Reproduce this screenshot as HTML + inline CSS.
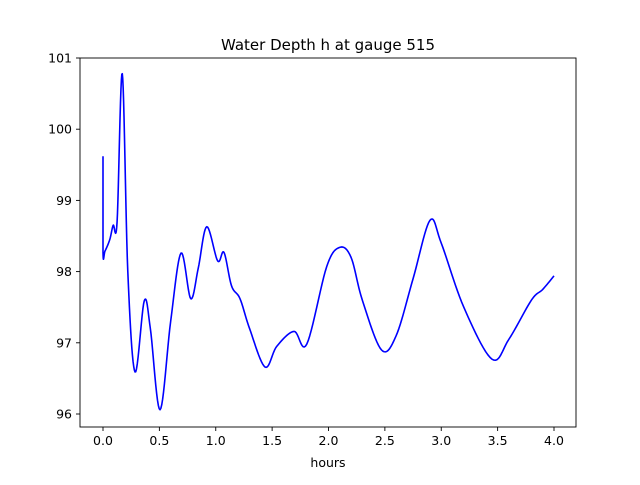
<!DOCTYPE html>
<html><head><meta charset="utf-8"><style>
body{margin:0;background:#fff}
svg text{font-family:"DejaVu Sans","Liberation Sans",sans-serif;fill:#000}
</style></head><body>
<svg width="640" height="480" viewBox="0 0 640 480">
<rect width="640" height="480" fill="#fff"/>
<g id="plot"></g>
</svg>
<script>
const times=[0,0,0.018,0.06,0.09,0.125,0.171,0.22,0.284,0.366,0.42,0.506,0.6,0.692,0.778,0.845,0.92,1.017,1.073,1.14,1.215,1.3,1.437,1.541,1.694,1.807,1.984,2.1,2.2,2.3,2.47,2.6,2.75,2.9,3.0,3.2,3.45,3.6,3.8,3.9,4.0];
const depth=[99.62,98.275,98.29,98.45,98.65,98.7,100.78,98.0,96.59,97.59,97.2,96.06,97.3,98.26,97.62,98.05,98.63,98.15,98.27,97.8,97.62,97.2,96.66,96.95,97.16,96.98,98.07,98.34,98.2,97.6,96.9,97.1,97.9,98.72,98.4,97.5,96.77,97.05,97.6,97.75,97.94];
const xTicks=[0,0.5,1,1.5,2,2.5,3,3.5,4];
const xTickLabels=["0.0","0.5","1.0","1.5","2.0","2.5","3.0","3.5","4.0"];
const yTicks=[96,97,98,99,100,101];
const L=80,R=576,T=58,B=427;
const x=t=>103+(t-0)*112.75;
const y=v=>414-(v-96)*71.2;
const ns="http://www.w3.org/2000/svg";
const g=document.getElementById('plot');
function mk(tag,attrs,txt){const e=document.createElementNS(ns,tag);for(const k in attrs)e.setAttribute(k,attrs[k]);if(txt!==undefined)e.textContent=txt;g.appendChild(e);return e;}
// line
let pts=[];
for(let i=0;i<times.length-1;i++){
  const p0=[x(times[Math.max(0,i-1)]),y(depth[Math.max(0,i-1)])],p1=[x(times[i]),y(depth[i])],p2=[x(times[i+1]),y(depth[i+1])],p3=[x(times[Math.min(times.length-1,i+2)]),y(depth[Math.min(times.length-1,i+2)])];
  if(i===0){pts.push(p1,p2);continue;}
  for(let s=0;s<=12;s++){const u=s/12,u2=u*u,u3=u2*u;
    const f=(a,b,c,d)=>0.5*(2*b+(-a+c)*u+(2*a-5*b+4*c-d)*u2+(-a+3*b-3*c+d)*u3);
    pts.push([f(p0[0],p1[0],p2[0],p3[0]),f(p0[1],p1[1],p2[1],p3[1])]);}
}
const line=mk('polyline',{points:pts.map(p=>p[0].toFixed(2)+','+p[1].toFixed(2)).join(' '),fill:'none',stroke:'#0000ff','stroke-width':1.6,'stroke-linejoin':'round'});


const frame=mk('rect',{x:L,y:T,width:R-L,height:B-T,fill:'none',stroke:'#000','stroke-width':0.9});


xTicks.forEach((t,i)=>{
  const tk=mk('line',{x1:x(t),x2:x(t),y1:B,y2:B+4,stroke:'#000','stroke-width':0.9});
  
  
  const lb=mk('text',{x:x(t),y:B+18,'text-anchor':'middle','font-size':'12.5'},xTickLabels[i]);
  
  
});
yTicks.forEach(v=>{
  const tk=mk('line',{x1:L-4,x2:L,y1:y(v),y2:y(v),stroke:'#000','stroke-width':0.9});
  
  
  const lb=mk('text',{x:L-8,y:y(v)+4.5,'text-anchor':'end','font-size':'12.5'},String(v));
  
  
});
const xt=mk('text',{x:(L+R)/2,y:467,'text-anchor':'middle','font-size':'12.5'},'hours');


const tt=mk('text',{x:(L+R)/2,y:50,'text-anchor':'middle','font-size':'15'},'Water Depth h at gauge 515');


</script>
</body></html>
